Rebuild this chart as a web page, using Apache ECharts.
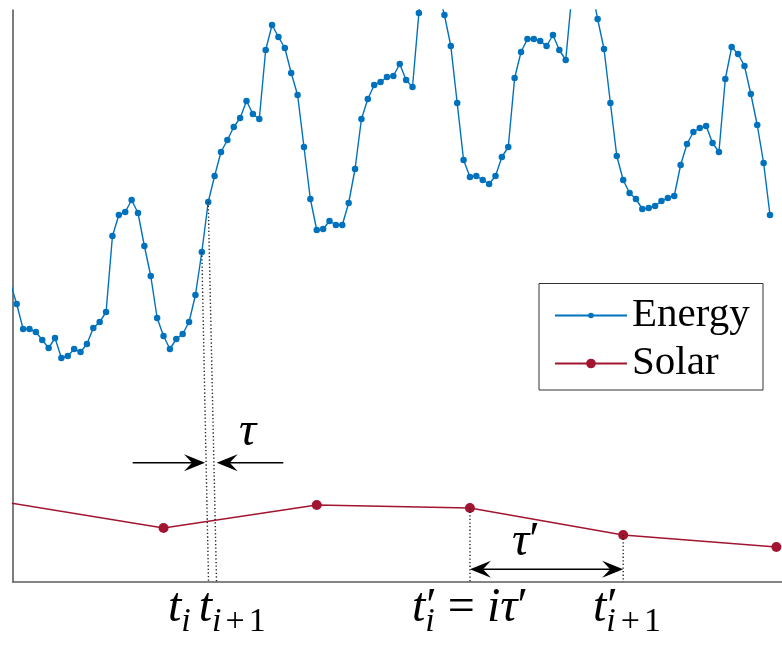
<!DOCTYPE html>
<html>
<head>
<meta charset="utf-8">
<script src="https://cdn.jsdelivr.net/npm/echarts@6/dist/echarts.min.js"></script>
<style>
html,body{margin:0;padding:0;background:#fff;}
#c{width:782px;height:646px;}
</style>
</head>
<body>
<div id="c"></div>
<script>
// ---- data ----
// hourly energy samples (x = sample index)
const energy = [
  299, 278, 253, 253, 250, 242, 234, 244, 224, 226,
  233, 230, 238, 254, 260, 270, 346, 367, 370, 382,
  369, 336, 306, 264, 246, 233, 243, 248, 260, 287,
  330, 380, 406, 430, 442, 455, 464, 481, 468, 463,
  532, 557, 545, 534, 509, 487, 435, 383, 352, 353,
  361, 357, 357, 379, 413, 463, 483, 497, 500, 505,
  506, 518, 502, 495, 569, 620, 640, 592, 567, 536,
  479, 422, 405, 406, 402, 398, 406, 425, 435, 504,
  530, 543, 543, 541, 536, 547, 532, 522, 590, 625,
  620, 596, 563, 533, 479, 426, 402, 389, 383, 373,
  374, 376, 381, 384, 386, 417, 438, 450, 454, 456,
  439, 430, 503, 535, 528, 516, 488, 457, 419, 367
];
// solar samples, one every solarStep energy samples
const solarStep = 24;
const solar = [79, 54, 77, 74, 47, 35];
const seriesNames = ['Energy', 'Solar'];

// ---- chart ----
const SERIF = "'Liberation Serif', 'Times New Roman', serif";
const BLUE = '#0072BD';
const RED = '#A2142F';
const chart = echarts.init(document.getElementById('c'), null, {renderer: 'canvas'});

const energyData = energy.map((v, i) => [i, v]);
const solarData = solar.map((v, i) => [i * solarStep, v]);

const axisLineStyle = {color: '#5c5c5c', width: 1.6};

chart.setOption({
  animation: false,
  grid: {left: 13, right: 0, top: 10, bottom: 64},
  xAxis: {
    type: 'value', min: 0.42, max: 120.88,
    axisLine: {show: true, onZero: false, lineStyle: axisLineStyle},
    axisTick: {show: false}, axisLabel: {show: false}, splitLine: {show: false}
  },
  yAxis: {
    type: 'value', min: 0, max: 572,
    axisLine: {show: true, onZero: false, lineStyle: axisLineStyle},
    axisTick: {show: false}, axisLabel: {show: false}, splitLine: {show: false}
  },
  legend: [
    {
      data: [seriesNames[0]], left: 554, top: 295, padding: 0,
      itemWidth: 72, itemHeight: 7, selectedMode: false,
      textStyle: {fontFamily: SERIF, fontSize: 41, color: '#000'}
    },
    {
      data: [seriesNames[1]], left: 554, top: 343, padding: 0,
      itemWidth: 72, itemHeight: 12, selectedMode: false,
      textStyle: {fontFamily: SERIF, fontSize: 41, color: '#000'}
    }
  ],
  series: [
    {
      name: seriesNames[0], type: 'line', data: energyData,
      symbol: 'circle', symbolSize: 6.5, showSymbol: true, showAllSymbol: true,
      lineStyle: {color: BLUE, width: 1.4}, itemStyle: {color: BLUE},
      clip: true, z: 3
    },
    {
      name: seriesNames[1], type: 'line', data: solarData,
      symbol: 'circle', symbolSize: 10, showSymbol: true,
      lineStyle: {color: RED, width: 1.3}, itemStyle: {color: RED},
      clip: true, z: 2
    }
  ]
});

// ---- annotations (anchored through the axes) ----
const P = (x, y) => chart.convertToPixel({gridIndex: 0}, [x, y]);
const dot = {stroke: '#222', lineWidth: 1.4, lineDash: [1.3, 2.3]};
function dotted(a, b) {
  return {type: 'line', shape: {x1: a[0], y1: a[1], x2: b[0], y2: b[1]}, style: dot, z: 10, silent: true};
}
function arrowHead(tip, dir) {
  const L = 21, W = 17;
  return {
    type: 'polygon', z: 11, silent: true,
    shape: {points: [
      [tip[0], tip[1]],
      [tip[0] - dir * L, tip[1] - W / 2],
      [tip[0] - dir * L * 0.62, tip[1]],
      [tip[0] - dir * L, tip[1] + W / 2]
    ]},
    style: {fill: '#000'}
  };
}
function seg(a, b) {
  return {type: 'line', shape: {x1: a[0], y1: a[1], x2: b[0], y2: b[1]}, style: {stroke: '#000', lineWidth: 1.4}, z: 11, silent: true};
}

const iA = 30, iB = 31;
const eA = P(iA, energy[iA]), eA0 = P(31.05, 0);
const eB = P(iB, energy[iB]), eB0 = P(32.3, 0);
const s3 = P(3 * solarStep, solar[3]), s3b = P(3 * solarStep, 0);
const s4 = P(4 * solarStep, solar[4]), s4b = P(4 * solarStep, 0);

const tauY = 119.3;
const lTail = P(19.17, tauY), lTip = P(30.5, tauY);
const rTail = P(42.76, tauY), rTip = P(32.33, tauY);
const tpY = 12.7;
const tpL = P(3 * solarStep, tpY), tpR = P(4 * solarStep, tpY);

// math-like labels laid out piece by piece (italic letters, sub/superscripts)
const mctx = document.createElement('canvas').getContext('2d');
const MAIN = 48, SUB = 34, SUBDY = 10;
function fontStr(p) { return (p.it ? 'italic ' : '') + p.size + "px 'Liberation Serif'"; }
function layoutMath(pieces, x0, base) {
  const out = [];
  let x = x0, holdW = 0;
  for (const p of pieces) {
    if (p.gap) { x += p.gap; continue; }
    mctx.font = fontStr(p);
    const w = mctx.measureText(p.t).width;
    out.push({
      type: 'text', x: x + (p.dx || 0), y: base + (p.dy || 0) - 0.28 * p.size, z: 12, silent: true,
      style: {text: p.t, fontFamily: SERIF, fontStyle: p.it ? 'italic' : 'normal', fontSize: p.size,
              align: 'left', verticalAlign: 'middle', fill: '#000'}
    });
    if (p.hold) { holdW = w; continue; }
    x += Math.max(w, holdW);
    holdW = 0;
  }
  return out;
}
const M = (t, extra) => Object.assign({t: t, size: MAIN, it: true}, extra || {});
const S = (t, extra) => Object.assign({t: t, size: SUB, it: true, dy: SUBDY}, extra || {});
const PRIME = {t: '′', size: MAIN, it: false, hold: true, dx: 1};

const labelBase = 622;
const label1 = layoutMath([
  M('t'), S('i'), {gap: 8}, M('t'), S('i'), {gap: 4}, S('+', {it: false}), {gap: 4}, S('1', {it: false})
], 168, labelBase);
const label2 = layoutMath([
  M('t'), PRIME, S('i'), {gap: 12}, M('=', {it: false}), {gap: 12}, M('i'), M('τ'), M('′', {it: false})
], 412, labelBase);
const label3 = layoutMath([
  M('t'), PRIME, S('i'), {gap: 4}, S('+', {it: false}), {gap: 4}, S('1', {it: false})
], 593, labelBase);
const tauLbl = layoutMath([M('τ')], 239, 446);
const tauPLbl = layoutMath([M('τ'), M('′', {it: false})], 512, 556);

chart.setOption({
  graphic: [
    {type: 'rect', shape: {x: 539, y: 283.5, width: 224, height: 106.5},
     style: {fill: 'none', stroke: '#333', lineWidth: 1}, z: 1, silent: true},
    dotted(eA, eA0), dotted(eB, eB0), dotted(s3, s3b), dotted(s4, s4b),
    seg(lTail, [lTip[0] - 10, lTip[1]]), arrowHead(lTip, 1),
    seg(rTail, [rTip[0] + 10, rTip[1]]), arrowHead(rTip, -1),
    seg([tpL[0] + 10, tpL[1]], [tpR[0] - 10, tpR[1]]), arrowHead(tpL, -1), arrowHead(tpR, 1)
  ].concat(label1, label2, label3, tauLbl, tauPLbl)
});
</script>
</body>
</html>
